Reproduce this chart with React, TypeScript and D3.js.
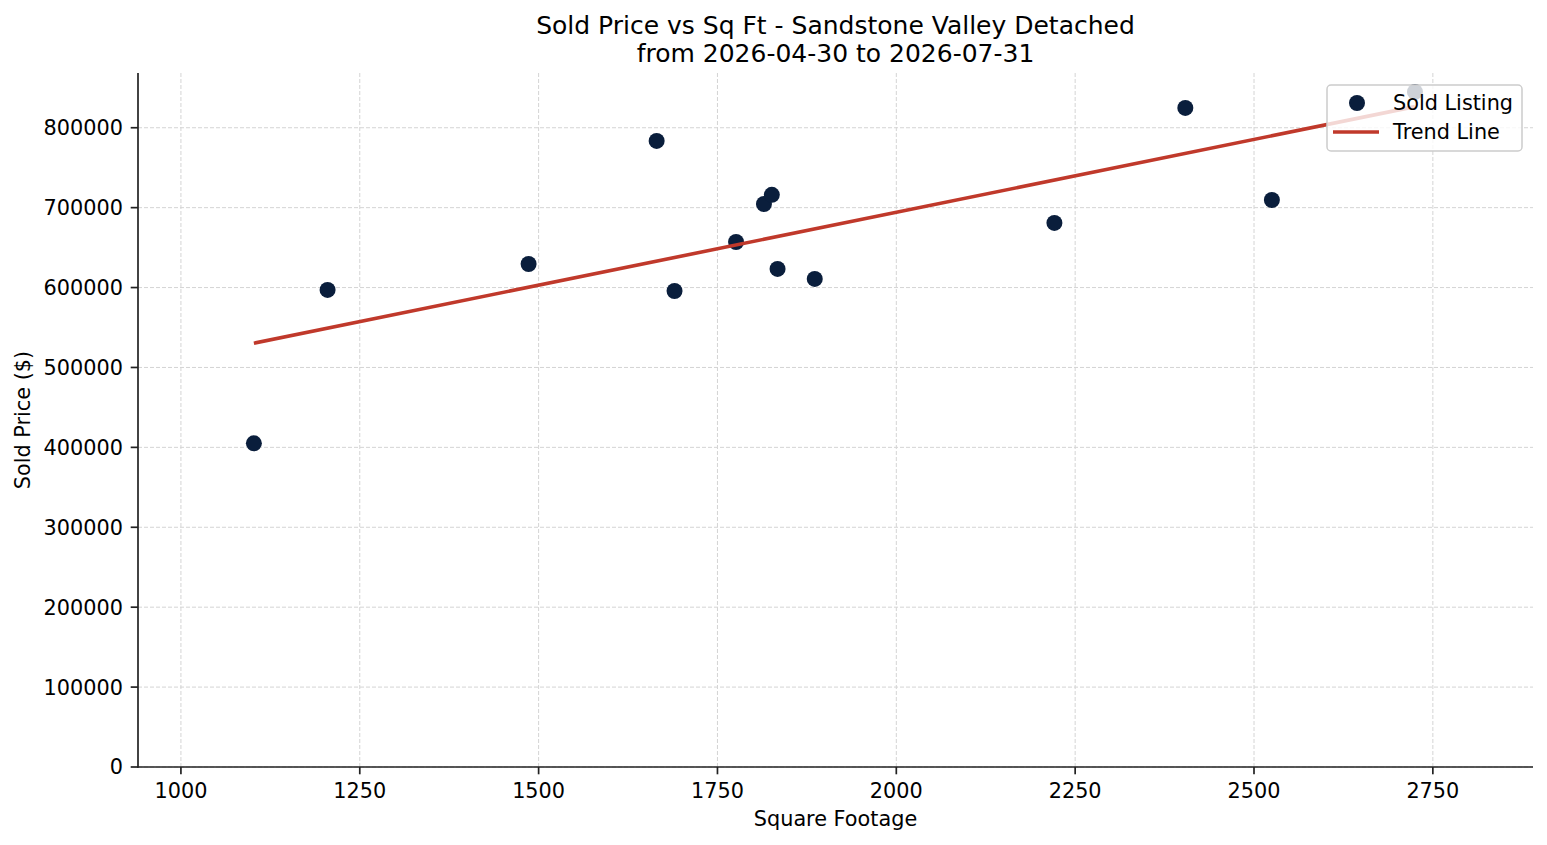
import React from 'react';
import * as d3 from 'd3';

// Sold listings: square footage and sold price
const sqft = [1102, 1205, 1486, 1665, 1690, 1776, 1815, 1826, 1834, 1886, 2221, 2404, 2525, 2725];
const price = [405000, 597000, 629500, 783500, 595700, 657000, 704600, 716000, 623300, 610800, 680900, 824800, 709600, 844800];

const xTicks = [1000, 1250, 1500, 1750, 2000, 2250, 2500, 2750];
const yTicks = [0, 100000, 200000, 300000, 400000, 500000, 600000, 700000, 800000];

const titleLines = ['Sold Price vs Sq Ft - Sandstone Valley Detached', 'from 2026-04-30 to 2026-07-31'];

const W = 1547;
const H = 845;
const margin = { top: 73, right: 14, bottom: 78, left: 138 };
const FONT = '"DejaVu Sans", sans-serif';
const FS = 20.8;
const DOT = '#0a1e3c';
const RED = '#c0392b';

// least squares fit for the trend line
function fitLine(xs: number[], ys: number[]) {
  const mx = d3.mean(xs)!;
  const my = d3.mean(ys)!;
  let num = 0;
  let den = 0;
  xs.forEach((x, i) => {
    num += (x - mx) * (ys[i] - my);
    den += (x - mx) * (x - mx);
  });
  const slope = num / den;
  return { slope, intercept: my - slope * mx };
}

export default function App() {
  const innerW = W - margin.left - margin.right;
  const innerH = H - margin.top - margin.bottom;

  const x = d3.scaleLinear().domain([940, 2890]).range([margin.left, margin.left + innerW]);
  const y = d3.scaleLinear().domain([0, 868500]).range([margin.top + innerH, margin.top]);

  const { slope, intercept } = fitLine(sqft, price);
  const xMin = d3.min(sqft)!;
  const xMax = d3.max(sqft)!;
  const trend = d3.line<number>()
    .x(d => x(d))
    .y(d => y(slope * d + intercept))([xMin, xMax]);

  const x0 = margin.left;
  const x1 = margin.left + innerW;
  const y0 = margin.top + innerH;
  const y1 = margin.top;

  // legend box in the upper right corner
  const lg = { x: x1 - 206, y: y1 + 12, w: 195, h: 66 };

  return (
    <svg width={W} height={H} style={{ position: 'absolute', left: 0, top: 0, background: '#fff' }} fontFamily={FONT}>
      {/* title */}
      {titleLines.map((t, i) => (
        <text key={t} x={(x0 + x1) / 2} y={34 + i * 28} textAnchor="middle" fontSize={25} fill="#000">{t}</text>
      ))}

      {/* grid */}
      <g stroke="#d4d4d4" strokeWidth={1} strokeDasharray="4,2">
        {xTicks.map(t => <line key={'gx' + t} x1={x(t)} x2={x(t)} y1={y0} y2={y1} />)}
        {yTicks.map(t => <line key={'gy' + t} x1={x0} x2={x1} y1={y(t)} y2={y(t)} />)}
      </g>

      {/* points */}
      <g fill={DOT}>
        {sqft.map((s, i) => <circle key={i} cx={x(s)} cy={y(price[i])} r={8} />)}
      </g>

      {/* trend line */}
      <path d={trend ?? ''} fill="none" stroke={RED} strokeWidth={3.6} />

      {/* spines */}
      <line x1={x0} x2={x0} y1={y1} y2={y0 + 0.8} stroke="#222" strokeWidth={1.7} />
      <line x1={x0 - 0.8} x2={x1} y1={y0} y2={y0} stroke="#222" strokeWidth={1.7} />

      {/* x axis */}
      {xTicks.map(t => (
        <g key={'xt' + t}>
          <line x1={x(t)} x2={x(t)} y1={y0} y2={y0 + 7.3} stroke="#222" strokeWidth={1.7} />
          <text x={x(t)} y={y0 + 31} textAnchor="middle" fontSize={FS} fill="#000">{t}</text>
        </g>
      ))}
      <text x={(x0 + x1) / 2} y={826} textAnchor="middle" fontSize={FS} fill="#000">Square Footage</text>

      {/* y axis */}
      {yTicks.map(t => (
        <g key={'yt' + t}>
          <line x1={x0 - 7.3} x2={x0} y1={y(t)} y2={y(t)} stroke="#222" strokeWidth={1.7} />
          <text x={x0 - 15} y={y(t)} dy="0.36em" textAnchor="end" fontSize={FS} fill="#000">{t}</text>
        </g>
      ))}
      <text transform={`translate(30,${(y0 + y1) / 2}) rotate(-90)`} textAnchor="middle" fontSize={FS} fill="#000">Sold Price ($)</text>

      {/* legend */}
      <g>
        <rect x={lg.x} y={lg.y} width={lg.w} height={lg.h} rx={4} fill="#fff" fillOpacity={0.8} stroke="#cccccc" strokeWidth={1.5} />
        <circle cx={lg.x + 30} cy={lg.y + 18} r={8} fill={DOT} />
        <text x={lg.x + 66} y={lg.y + 25} fontSize={FS} fill="#000">Sold Listing</text>
        <line x1={lg.x + 6} x2={lg.x + 52} y1={lg.y + 47} y2={lg.y + 47} stroke={RED} strokeWidth={3.6} />
        <text x={lg.x + 66} y={lg.y + 54} fontSize={FS} fill="#000">Trend Line</text>
      </g>
    </svg>
  );
}
